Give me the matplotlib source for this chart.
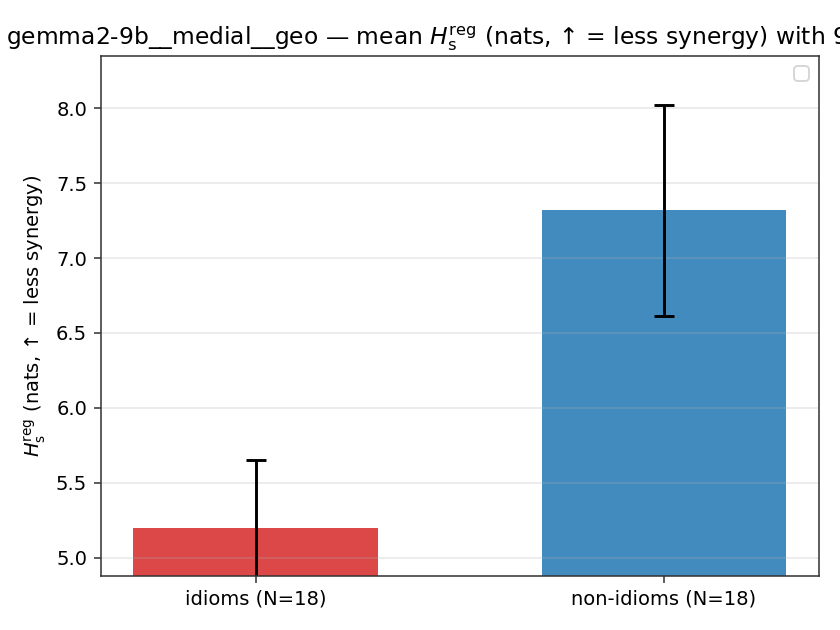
import matplotlib
matplotlib.use("Agg")
import matplotlib.pyplot as plt
import numpy as np

# data
labels = ["idioms (N=18)", "non-idioms (N=18)"]
means = [5.20, 7.32]
ci_low = [4.75, 6.61]
ci_high = [5.65, 8.02]
colors = ["#d62728", "#1f77b4"]

fig, ax = plt.subplots(figsize=(6.0, 4.5), dpi=140)
fig.subplots_adjust(left=0.12, right=0.975, top=0.911, bottom=0.086)

x = np.arange(len(labels))
yerr = np.array([[m - lo for m, lo in zip(means, ci_low)],
                 [hi - m for m, hi in zip(means, ci_high)]])
ax.bar(x, means, width=0.6, color=colors, alpha=0.85)
ax.errorbar(x, means, yerr=yerr, fmt="none", ecolor="black",
            elinewidth=1.5, capsize=5, capthick=1.5)

ax.set_xticks(x)
ax.set_xticklabels(labels)
ax.set_ylim(4.88, 8.347)
ax.set_ylabel(r"$H_\mathrm{s}^\mathrm{reg}$ (nats, ↑ = less synergy)")
ax.set_title(r"gemma2-9b__medial__geo — mean $H_\mathrm{s}^\mathrm{reg}$ "
             r"(nats, ↑ = less synergy) with 95% CI")
ax.grid(axis="y", alpha=0.3)
for s in ax.spines.values():
    s.set_color("#333333")
ax.tick_params(color="#333333")
ax.legend(loc="upper right")

fig.savefig("out.png", dpi=140)
